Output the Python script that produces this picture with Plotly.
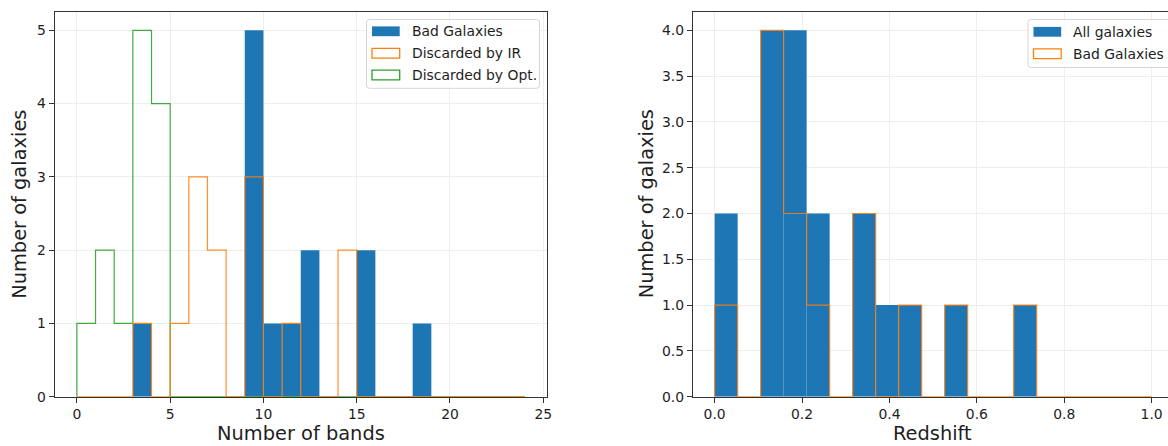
import plotly.graph_objects as go

# ---- data -------------------------------------------------------------
# Left panel: counts per integer band bin, edges 0..24
band_edges = list(range(0, 25))
bad_galaxies_bands = [0, 0, 0, 1, 0, 0, 0, 0, 0, 5, 1, 1, 2, 0, 0, 2, 0, 0, 1, 0, 0, 0, 0, 0]
discarded_ir = [0, 0, 0, 1, 0, 1, 3, 2, 0, 3, 0, 1, 0, 0, 2, 0, 0, 0, 0, 0, 0, 0, 0, 0]
discarded_opt = [1, 2, 1, 5, 4, 0, 0, 0, 0, 0, 0, 0, 0, 0, 0, 0, 0, 0, 0, 0, 0, 0, 0, 0]

# Right panel: redshift histogram, 19 equal bins over [0, 1]
n_z_bins = 19
z_edges = [i / n_z_bins for i in range(n_z_bins + 1)]
all_galaxies_z = [2, 0, 4, 4, 2, 0, 2, 1, 1, 0, 1, 0, 0, 1, 0, 0, 0, 0, 0]
bad_galaxies_z = [1, 0, 4, 2, 1, 0, 2, 0, 1, 0, 1, 0, 0, 1, 0, 0, 0, 0, 0]

left_yticks = [0, 1, 2, 3, 4, 5]
left_xticks = [0, 5, 10, 15, 20, 25]
right_yticks = [0.0, 0.5, 1.0, 1.5, 2.0, 2.5, 3.0, 3.5, 4.0]
right_xticks = [0.0, 0.2, 0.4, 0.6, 0.8, 1.0]

# ---- styling ----------------------------------------------------------
W, H = 1168, 446
BLUE, ORANGE, GREEN = "#1f77b4", "#ff7f0e", "#2ca02c"
FONT = "DejaVu Sans"
TXT = "#1e1e1e"
SPINE = "#333333"
GRID = "#eeeeee"
TICK_SIZE = 13.9
LABEL_SIZE = 19.4


def px(x):
    return x / W


def py(y):
    return 1 - y / H


def bar_trace(edges, counts, xa, ya):
    centers = [(edges[i] + edges[i + 1]) / 2 for i in range(len(counts))]
    widths = [edges[i + 1] - edges[i] for i in range(len(counts))]
    return go.Bar(x=centers, y=counts, width=widths, marker=dict(color=BLUE, line=dict(width=0)),
                  xaxis=xa, yaxis=ya, showlegend=False, hoverinfo="skip")


def step_trace(edges, counts, color, xa, ya):
    xs = [edges[0]] + list(edges[:-1]) + [edges[-1]]
    ys = [0] + list(counts) + [0]
    return go.Scatter(x=xs, y=ys, mode="lines", line=dict(color=color, width=1.2, shape="hv"),
                      opacity=0.88, xaxis=xa, yaxis=ya, showlegend=False, hoverinfo="skip")


fig = go.Figure()
fig.add_trace(bar_trace(band_edges, bad_galaxies_bands, "x", "y"))
fig.add_trace(step_trace(band_edges, discarded_opt, GREEN, "x", "y"))
fig.add_trace(step_trace(band_edges, discarded_ir, ORANGE, "x", "y"))
fig.add_trace(bar_trace(z_edges, all_galaxies_z, "x2", "y2"))
fig.add_trace(step_trace(z_edges, bad_galaxies_z, ORANGE, "x2", "y2"))

# plot-area geometry (pixels)
L_X0, L_X1 = 54.5, 547.0
R_X0 = 692.8
Y_TOP, Y_BOT = 12.0, 396.7
R_XMIN = -0.05
R_XMAX = R_XMIN + (W - R_X0) / 437.0

axis_common = dict(
    showline=True, linecolor=SPINE, linewidth=1,
    ticks="outside", ticklen=5, tickwidth=1, tickcolor=SPINE,
    tickfont=dict(family=FONT, size=TICK_SIZE, color=TXT),
    showgrid=True, gridcolor=GRID, gridwidth=1,
    zeroline=False, automargin=False, fixedrange=True,
)

fig.update_layout(
    width=W, height=H,
    margin=dict(l=0, r=0, t=0, b=0),
    paper_bgcolor="white", plot_bgcolor="white",
    font=dict(family=FONT, color=TXT),
    showlegend=False,
    xaxis=dict(axis_common, domain=[px(L_X0), px(L_X1)], range=[-1.2, 25.2], mirror=True,
               tickmode="array", tickvals=left_xticks, ticktext=[str(v) for v in left_xticks],
               anchor="y"),
    yaxis=dict(axis_common, domain=[py(Y_BOT), py(Y_TOP)], range=[0, 5.25], mirror=True,
               tickmode="array", tickvals=left_yticks, ticktext=[str(v) for v in left_yticks],
               anchor="x"),
    xaxis2=dict(axis_common, domain=[px(R_X0), 1.0], range=[R_XMIN, R_XMAX], mirror=True,
                tickmode="array", tickvals=right_xticks, ticktext=[f"{v:.1f}" for v in right_xticks],
                anchor="y2"),
    yaxis2=dict(axis_common, domain=[py(Y_BOT), py(Y_TOP)], range=[0, 4.2], mirror=False,
                tickmode="array", tickvals=right_yticks, ticktext=[f"{v:.1f}" for v in right_yticks],
                anchor="x2"),
)

annotations = []
shapes = []


def axis_label(text, x, y, angle=0):
    annotations.append(dict(text=text, x=px(x), y=py(y), xref="paper", yref="paper",
                            xanchor="center", yanchor="middle", showarrow=False, textangle=angle,
                            font=dict(family=FONT, size=LABEL_SIZE, color=TXT)))


axis_label("Number of bands", (L_X0 + L_X1) / 2, 433)
axis_label("Number of galaxies", 19.5, (Y_TOP + Y_BOT) / 2, -90)
axis_label("Redshift", 933, 433)
axis_label("Number of galaxies", 646, (Y_TOP + Y_BOT) / 2, -90)


def rounded_box(x0, y0, x1, y1, r=3):
    X0, X1 = px(x0), px(x1)
    Y0, Y1 = py(y0), py(y1)
    rx, ry = r / W, r / H
    path = (f"M{X0 + rx},{Y0} L{X1 - rx},{Y0} Q{X1},{Y0} {X1},{Y0 - ry} "
            f"L{X1},{Y1 + ry} Q{X1},{Y1} {X1 - rx},{Y1} L{X0 + rx},{Y1} "
            f"Q{X0},{Y1} {X0},{Y1 + ry} L{X0},{Y0 - ry} Q{X0},{Y0} {X0 + rx},{Y0} Z")
    shapes.append(dict(type="path", path=path, xref="paper", yref="paper",
                       fillcolor="rgba(255,255,255,0.8)", line=dict(color="#d6d6d6", width=1)))


def legend(box, entries, row_y):
    x0, y0, x1, y1 = box
    rounded_box(x0, y0, x1, y1)
    sx0, sx1 = x0 + 5.5, x0 + 33.2
    for (label, filled, color), yc in zip(entries, row_y):
        shapes.append(dict(type="rect", xref="paper", yref="paper",
                           x0=px(sx0), x1=px(sx1), y0=py(yc + 4.9), y1=py(yc - 4.9),
                           fillcolor=color if filled else "white",
                           line=dict(color=color, width=0 if filled else 1.3)))
        annotations.append(dict(text=label, x=px(x0 + 43.2), y=py(yc), xref="paper", yref="paper",
                                xanchor="left", yanchor="middle", showarrow=False,
                                font=dict(family=FONT, size=TICK_SIZE, color=TXT)))


legend((366.5, 19.5, 539.5, 88.3),
       [("Bad Galaxies", True, BLUE), ("Discarded by IR", False, ORANGE),
        ("Discarded by Opt.", False, GREEN)],
       [31.3, 53.2, 75.0])
legend((1028.0, 19.5, 1175.0, 67.5),
       [("All galaxies", True, BLUE), ("Bad Galaxies", False, ORANGE)],
       [31.8, 53.8])

fig.update_layout(annotations=annotations, shapes=shapes)
fig.write_html("out.html")
